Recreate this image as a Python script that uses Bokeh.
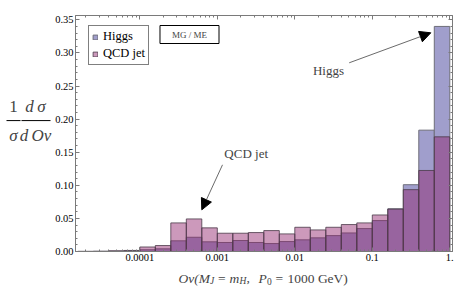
from bokeh.plotting import figure
from bokeh.layouts import column, row
from bokeh.models import (Range1d, FixedTicker, LogAxis, LinearAxis, Label, Arrow,
                          NormalHead, Legend, LegendItem, ColumnDataSource)
from bokeh.embed import file_html
from bokeh.resources import INLINE

# bin edges (log10 of Ov)
bin_exp = [-4.8, -4.6, -4.4, -4.2, -4.0, -3.8, -3.6, -3.4, -3.2, -3.0, -2.8, -2.6,
           -2.4, -2.2, -2.0, -1.8, -1.6, -1.4, -1.2, -1.0, -0.8, -0.6, -0.4, -0.2, 0.0]
higgs = [0.0001, 0.0002, 0.0005, 0.0008, 0.0026, 0.0040, 0.0161, 0.0215, 0.0146, 0.0136,
         0.0166, 0.0136, 0.0120, 0.0150, 0.0176, 0.0206, 0.0240, 0.0280, 0.0346, 0.0467,
         0.0645, 0.1009, 0.1833, 0.3400]
qcd = [0.0002, 0.0004, 0.0010, 0.0016, 0.0068, 0.0090, 0.0432, 0.0492, 0.0357, 0.0276,
       0.0276, 0.0286, 0.0316, 0.0266, 0.0366, 0.0326, 0.0366, 0.0407, 0.0432, 0.0552,
       0.0640, 0.0934, 0.1224, 0.1732]
x_ticks = [0.0001, 0.001, 0.01, 0.1, 1.0]
x_tick_labels = ["0.0001", "0.001", "0.01", "0.1", "1."]
y_ticks = [0.0, 0.05, 0.10, 0.15, 0.20, 0.25, 0.30, 0.35]

edges = [10 ** e for e in bin_exp]
src = ColumnDataSource(dict(left=edges[:-1], right=edges[1:], higgs=higgs, qcd=qcd))

SERIF = "Liberation Serif"
AX = "#7a7a7a"
MAIN_H = 265
YL_W = 52

p = figure(x_axis_type="log", x_range=Range1d(10 ** -4.83, 10 ** 0.035),
           y_range=Range1d(0, 0.3565), frame_width=377, frame_height=236,
           min_border_left=73 - YL_W, min_border_right=7, min_border_top=15,
           min_border_bottom=MAIN_H - 15 - 236,
           output_backend="svg", toolbar_location=None)
p.xgrid.visible = False
p.ygrid.visible = False
p.outline_line_color = AX
p.background_fill_color = "white"

minor_x = []
for d in [1e-5, 1e-4, 1e-3, 1e-2, 1e-1]:
    for k in range(2, 10):
        minor_x.append(d * k)
minor_y = [i * 0.01 for i in range(0, 36)]

def style(ax, labels=True):
    ax.axis_line_color = AX
    ax.major_tick_line_color = AX
    ax.minor_tick_line_color = AX
    ax.major_tick_in = 4
    ax.major_tick_out = 0
    ax.minor_tick_in = 2
    ax.minor_tick_out = 0
    ax.major_label_text_font = SERIF
    ax.major_label_text_font_size = "10.5px" if labels else "1px"
    ax.major_label_text_color = "black"
    if not labels:
        ax.major_label_text_alpha = 0
    ax.major_label_standoff = 2 if labels else 0

p.xaxis.ticker = FixedTicker(ticks=x_ticks, minor_ticks=minor_x)
p.xaxis.major_label_overrides = {t: l for t, l in zip(x_ticks, x_tick_labels)}
p.yaxis.ticker = FixedTicker(ticks=y_ticks, minor_ticks=minor_y)
p.yaxis.major_label_overrides = {t: "%.2f" % t for t in y_ticks}
style(p.xaxis[0])
style(p.yaxis[0])

top_ax = LogAxis(ticker=FixedTicker(ticks=x_ticks, minor_ticks=minor_x))
style(top_ax, labels=False)
p.add_layout(top_ax, "above")
right_ax = LinearAxis(ticker=FixedTicker(ticks=y_ticks, minor_ticks=minor_y))
style(right_ax, labels=False)
p.add_layout(right_ax, "right")

r_h = p.quad(left="left", right="right", bottom=0, top="higgs", source=src,
             fill_color="#A09ECC", fill_alpha=1.0, line_color="#6e6e7a", line_width=1)
r_q = p.quad(left="left", right="right", bottom=0, top="qcd", source=src,
             fill_color="#8E1C68", fill_alpha=0.45, line_color="#4a3a48", line_alpha=0.8,
             line_width=1)

legend = Legend(items=[LegendItem(label="Higgs", renderers=[r_h]),
                       LegendItem(label="QCD jet", renderers=[r_q])],
                location=(13, 186), orientation="vertical")
legend.label_text_font = SERIF
legend.label_text_font_size = "12.5px"
legend.label_text_line_height = 0.8
legend.label_text_color = "black"
legend.glyph_width = 6
legend.glyph_height = 6
legend.label_standoff = 5
legend.label_height = 12
legend.label_width = 10
legend.spacing = 2
legend.padding = 3
legend.margin = 0
legend.border_line_color = "black"
legend.border_line_width = 1
legend.background_fill_alpha = 1.0
p.add_layout(legend, "center")

# MG/ME tag
p.add_layout(Label(x=114, y=217, x_units="screen", y_units="screen", text="MG / ME",
                   text_font=SERIF, text_font_size="9px", text_align="center",
                   text_baseline="middle", border_line_color="black", border_line_width=1,
                   background_fill_color="white", padding=(12, 4)))

# annotations
p.add_layout(Label(x=253, y=181, x_units="screen", y_units="screen", text="Higgs",
                   text_font=SERIF, text_font_size="13px", text_align="center",
                   text_baseline="middle"))
p.add_layout(Arrow(x_start=273.7, y_start=188.7, x_end=355.3, y_end=218.7,
                   start_units="screen", end_units="screen", line_color="#444444",
                   line_width=0.8, end=NormalHead(size=11, fill_color="black",
                                                  line_color="black")))
p.add_layout(Label(x=170.7, y=97.7, x_units="screen", y_units="screen", text="QCD jet",
                   text_font=SERIF, text_font_size="13px", text_align="center",
                   text_baseline="middle"))
p.add_layout(Arrow(x_start=147, y_start=86.7, x_end=126.3, y_end=41.7,
                   start_units="screen", end_units="screen", line_color="#444444",
                   line_width=0.8, end=NormalHead(size=11, fill_color="black",
                                                  line_color="black")))

def blank(w, h):
    f = figure(width=w, height=h, x_range=Range1d(0, w), y_range=Range1d(0, h),
               min_border=0, x_axis_location=None, y_axis_location=None,
               output_backend="svg", toolbar_location=None)
    f.xgrid.visible = False
    f.ygrid.visible = False
    f.outline_line_color = None
    return f

# y axis label panel: 1/sigma dsigma/dOv  (coords: page px, y measured from panel bottom)
yl = blank(YL_W, MAIN_H)

def lab(x, py, t, size="17px", style="italic"):
    yl.add_layout(Label(x=x, y=MAIN_H - py, text=t, text_font=SERIF, text_font_size=size,
                        text_font_style=style, text_align="center", text_baseline="middle"))

lab(13, 102, "1", style="normal")
lab(13, 135, "σ")
lab(35, 102, "d\u2009σ")
lab(35, 135, "d\u2009Ov")
for xs, xe in [(6, 20), (21, 50)]:
    yl.add_layout(Arrow(x_start=xs, y_start=MAIN_H - 118, x_end=xe, y_end=MAIN_H - 118,
                        line_color="black", line_width=1, end=None))

# x axis label panel
XL_H = 286 - MAIN_H
xlp = blank(457, XL_H)

def xl(x, t, size=13.5, style="italic", dy=0.0):
    xlp.add_layout(Label(x=x, y=286 - 277.7 - dy, text=t, text_font=SERIF,
                         text_font_size="%.1fpx" % size, text_font_style=style,
                         text_align="left", text_baseline="alphabetic"))

xl(178, "Ov(M")
xl(209.5, "J", size=9.5, dy=3)
xl(217.5, "=", style="normal")
xl(229, "m")
xl(239, "H", size=9.5, dy=3)
xl(246, ",", style="normal")
xl(258, "P")
xl(266.5, "0", size=9.5, style="normal", dy=3)
xl(275, "=", style="normal")
xl(287, "1000 GeV)", style="normal")

layout = column(row(yl, p), xlp)
open("out.html", "w").write(file_html(layout, INLINE))
